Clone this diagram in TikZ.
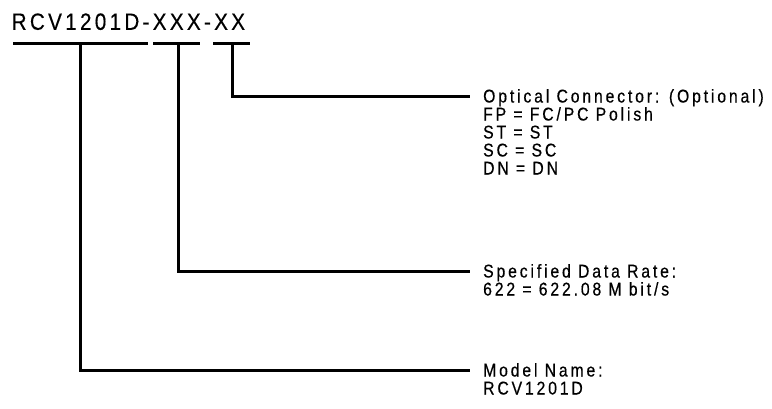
\documentclass[tikz,border=0pt]{standalone}
\usepackage{fontspec}
\setmainfont{Liberation Sans}
\newfontfamily\titlefont[LetterSpace=14,FakeStretch=0.88,FakeBold=0.3]{Liberation Sans}
\newfontfamily\labelfont[LetterSpace=15.5,FakeStretch=0.85,FakeBold=0.5]{Liberation Sans}
\begin{document}
\begin{tikzpicture}[x=1pt,y=-1pt,
  wire/.style={line width=3pt,line cap=butt},
  uline/.style={line width=3pt},
  titletext/.style={inner sep=0pt,anchor=base west,font=\titlefont\fontsize{23.5}{26}\selectfont},
  labtext/.style={inner sep=0pt,anchor=base west,font=\labelfont\fontsize{18.5}{18}\selectfont}]
\useasboundingbox (0,0) rectangle (772,408);
% title
\node[titletext] (title) at (11.5,29.8) {RCV1201D-XXX-XX};
% underlines
\coordinate (u1a) at (13,43.5); \coordinate (u1b) at (148,43.5);
\coordinate (u2a) at (153,43.5); \coordinate (u2b) at (200,43.5);
\coordinate (u3a) at (213,43.5); \coordinate (u3b) at (250,43.5);
\draw[uline] (u1a) -- (u1b);
\draw[uline] (u2a) -- (u2b);
\draw[uline] (u3a) -- (u3b);
% branch points
\coordinate (b1) at (80,43.5);
\coordinate (b2) at (178,43.5);
\coordinate (b3) at (232,43.5);
\coordinate (e1) at (470,370);
\coordinate (e2) at (470,271);
\coordinate (e3) at (470,96);
% labels
\node[labtext] (c1) at (483,102.5) {Optical Connector: (Optional)};
\node[labtext] (c2) at (483,120.5) {FP = FC/PC Polish};
\node[labtext] (c3) at (483,138.5) {ST = ST};
\node[labtext] (c4) at (483,156.5) {SC = SC};
\node[labtext] (c5) at (483,174.5) {DN = DN};
\node[labtext] (r1) at (483,277.5) {Specified Data Rate:};
\node[labtext] (r2) at (483,295.5) {622 = 622.08 M bit/s};
\node[labtext] (m1) at (483,376.5) {Model Name:};
\node[labtext] (m2) at (483,394.5) {RCV1201D};
% connectors
\draw[wire,line join=miter] (b3) |- (e3);
\draw[wire,line join=miter] (b2) |- (e2);
\draw[wire,line join=miter] (b1) |- (e1);
\end{tikzpicture}
\end{document}
